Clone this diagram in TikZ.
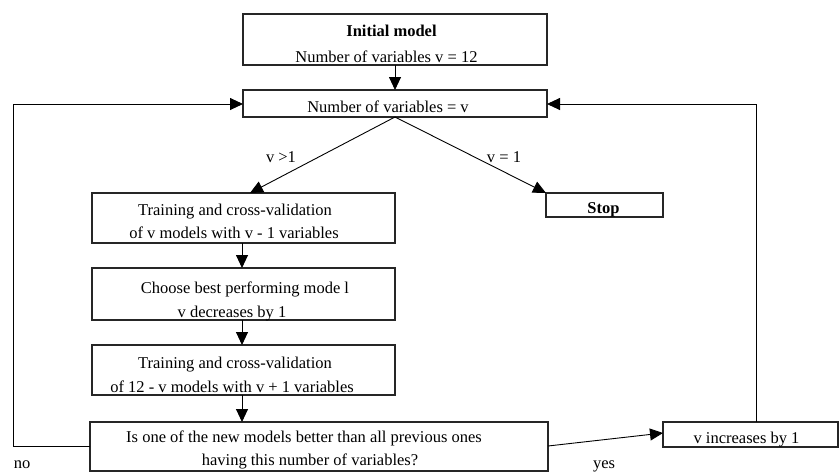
\documentclass[tikz,border=0pt]{standalone}
\usepackage{fontspec}
\setmainfont{Liberation Serif}
\usetikzlibrary{arrows.meta,calc}
\begin{document}
\begin{tikzpicture}[x=1pt,y=-1pt,
 box/.style={draw=black!85,line width=1.3pt,rectangle,inner sep=0pt,outer sep=0pt,anchor=north west},
 txt/.style={anchor=base,inner sep=0pt,font=\fontsize{16.5}{20}\selectfont},
 conn/.style={line width=0.9pt,-{Triangle[length=13pt,width=12pt]}},
 plainline/.style={line width=0.9pt}]
\useasboundingbox (0,0) rectangle (839,472);
% boxes
\node[box,minimum width=304pt,minimum height=51pt] (init) at (243,14) {};
\node[box,minimum width=304pt,minimum height=27pt] (numv) at (243,90) {};
\node[box,minimum width=303pt,minimum height=50pt] (train1) at (92,193) {};
\node[box,minimum width=117pt,minimum height=24pt] (stop) at (546,193) {};
\node[box,minimum width=303pt,minimum height=52pt] (choose) at (92,268) {};
\node[box,minimum width=303pt,minimum height=50pt] (train2) at (92,345) {};
\node[box,minimum width=458pt,minimum height=49pt] (dec) at (90,422) {};
\node[box,minimum width=175pt,minimum height=25pt] (incr) at (663,422) {};
% texts
\node[txt] (tinit1) at (391.5,36) {\textbf{Initial model}};
\node[txt] (tinit2) at (386.5,62) {Number of variables v = 12};
\node[txt] (tnumv) at (388,112) {Number of variables = v};
\node[txt] (ttr1a) at (235,215) {Training and cross-validation};
\node[txt] (ttr1b) at (234,238) {of v models with v - 1 variables};
\node[txt] (tstop) at (603.5,213) {\textbf{Stop}};
\node[txt] (tch1) at (245,293) {Choose best performing mode l};
\node[txt] (tch2) at (232,317) {v decreases by 1};
\node[txt] (ttr2a) at (235,368) {Training and cross-validation};
\node[txt] (ttr2b) at (232,392) {of 12 - v models with v + 1 variables};
\node[txt] (tdec1) at (304,442) {Is one of the new models better than all previous ones};
\node[txt] (tdec2) at (310,465) {having this number of variables?};
\node[txt] (tincr) at (746.5,443) {v increases by 1};
\node[txt] (tno) at (22,468) {no};
\node[txt] (tyes) at (604,468) {yes};
\node[txt] (tgt) at (281,162) {v >1};
\node[txt] (teq) at (504,162) {v = 1};
% connector helper coordinates
\coordinate (tr1tip) at (250,193);
\coordinate (stoptip) at (546,193);
\coordinate (decL) at (90,446);
\coordinate (decR) at (548,446);
\coordinate (incrL) at (663,433);
\coordinate (loopL) at (13,104);
\coordinate (numvL) at (243,104);
\coordinate (numvR) at (547,104);
\coordinate (loopR) at (756,104);
% connectors
\draw[conn] (init.south) -- (numv.north);
\draw[conn] (numv.south) -- (tr1tip);
\draw[conn] (numv.south) -- (stoptip);
\draw[conn] (train1.south -| 242,0) -- (choose.north -| 242,0);
\draw[conn] (choose.south -| 242,0) -- (train2.north -| 242,0);
\draw[conn] (train2.south -| 242,0) -- (dec.north -| 242,0);
\draw[conn] (decL) -- (decL -| loopL) -- (loopL) -- (numvL);
\draw[conn] (decR) -- (incrL);
\draw[conn] (incr.north -| loopR) -- (loopR) -- (numvR);
\end{tikzpicture}
\end{document}
